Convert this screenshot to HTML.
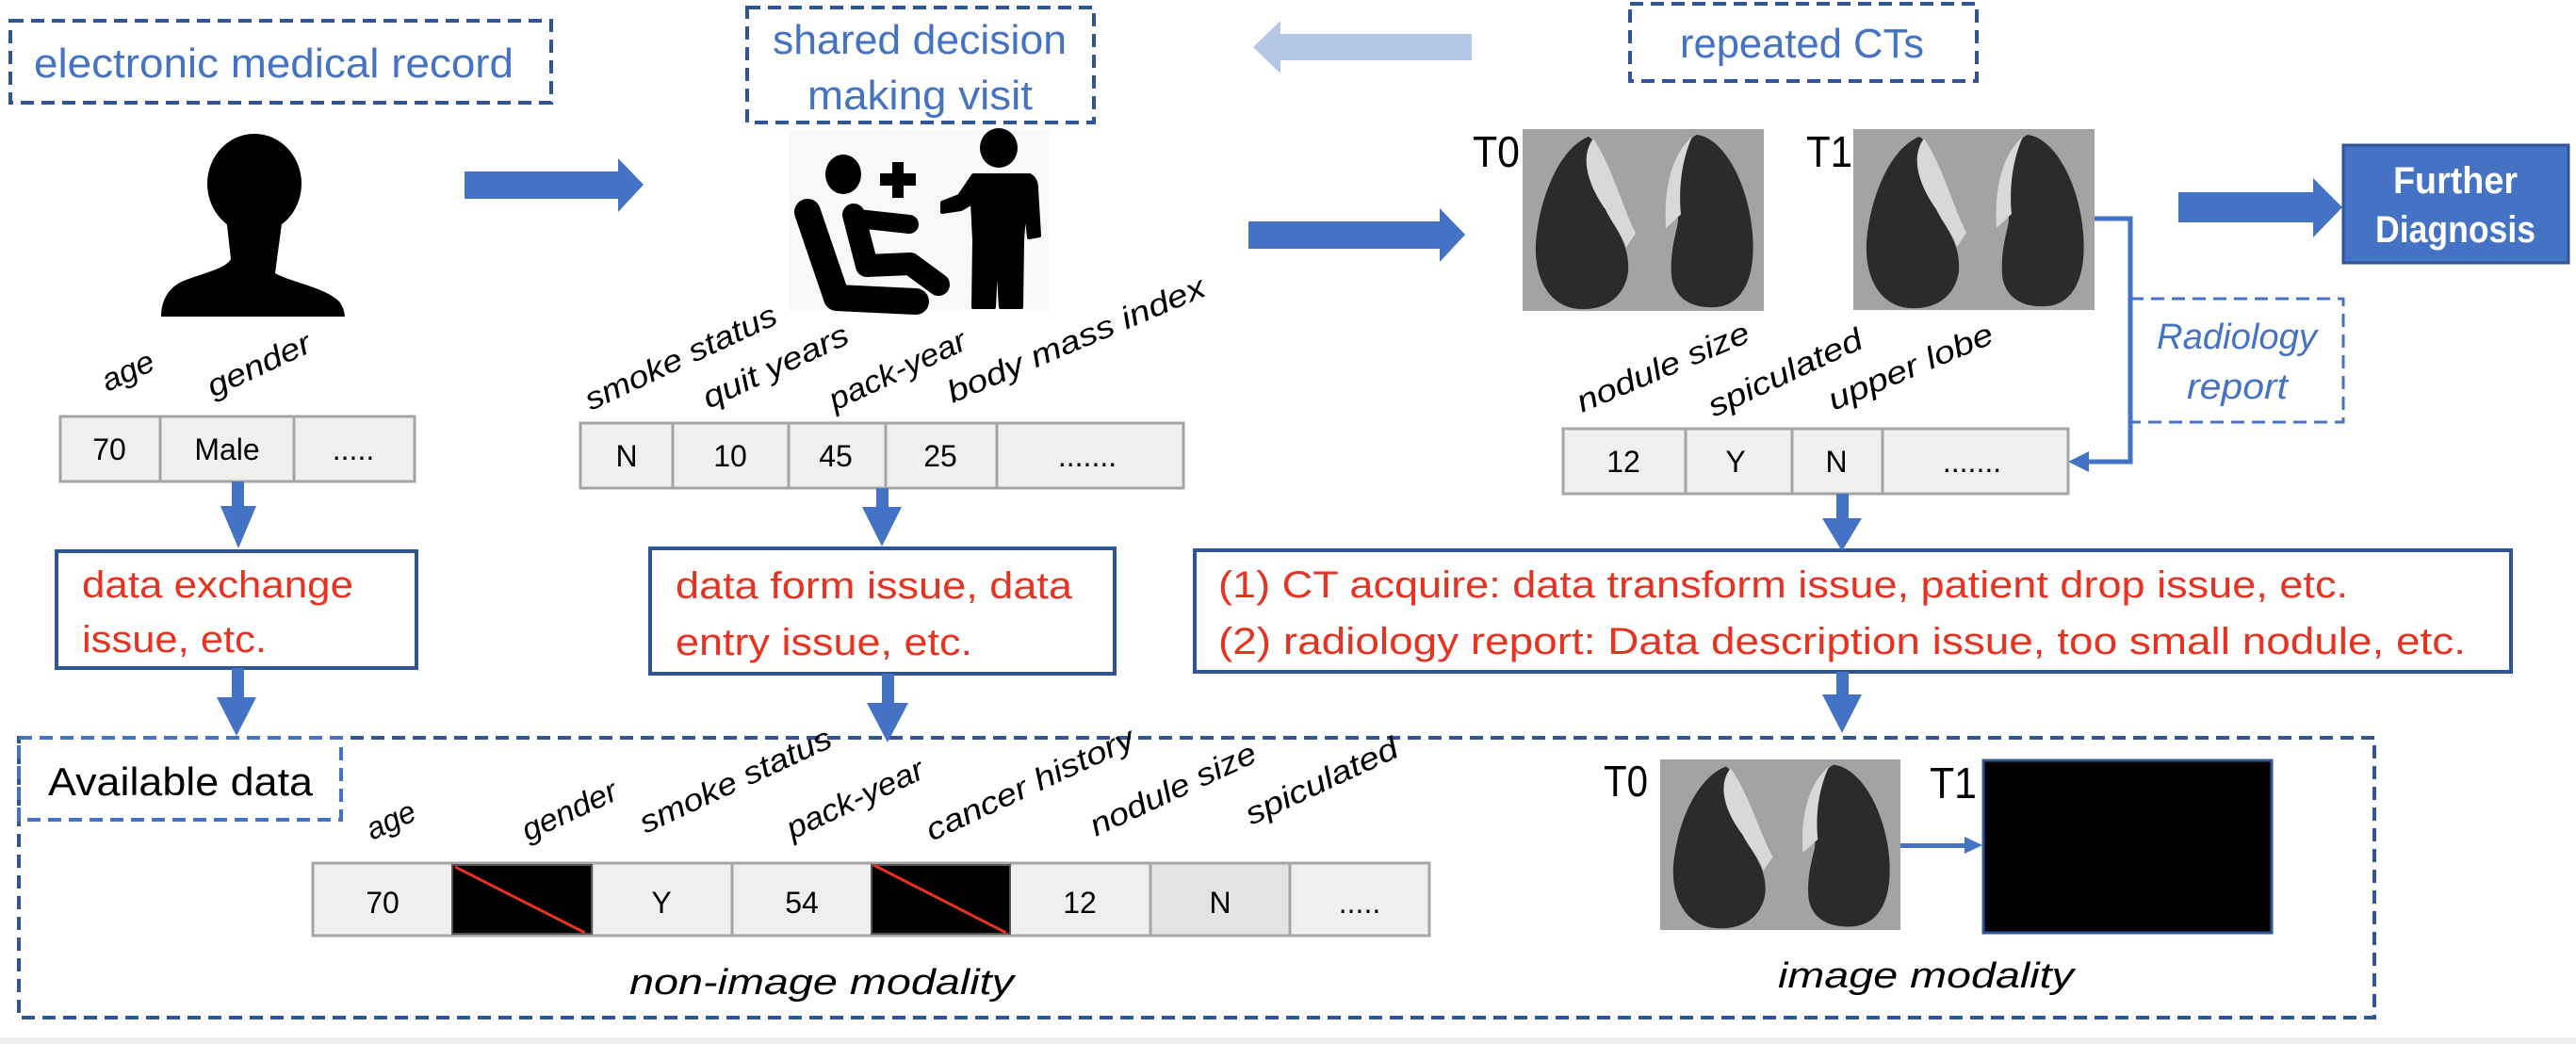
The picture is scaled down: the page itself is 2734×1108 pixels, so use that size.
<!DOCTYPE html>
<html><head><meta charset="utf-8"><style>html,body{margin:0;padding:0;background:#fff}svg{display:block}</style></head>
<body>
<svg width="2734" height="1108" viewBox="0 0 2734 1108" xmlns="http://www.w3.org/2000/svg" font-family="Liberation Sans, sans-serif">
<defs>
<g id="lung">
<rect x="0" y="0" width="256" height="192" fill="#a3a3a3"/>
<path d="M70,8 C40,20 18,70 14,120 C12,160 30,188 60,190 C95,192 110,170 112,150 C114,120 95,100 88,85 C80,60 95,25 70,8Z" fill="#2b2b2b"/>
<path d="M185,6 C215,10 240,60 244,110 C248,160 232,186 205,188 C175,190 160,175 158,155 C156,125 165,105 165,95 C160,60 165,15 185,6Z" fill="#2b2b2b"/>
<path d="M75,10 C60,30 70,60 88,85 C95,100 105,110 110,125 L120,110 C105,80 95,40 75,10Z" fill="#d8d8d8"/>
<path d="M180,8 C170,30 165,60 168,90 L152,105 C150,70 155,30 180,8Z" fill="#d8d8d8"/>
</g>
</defs>
<rect x="0" y="1101" width="2734" height="7" fill="#eeeeee"/>

<g fill="none" stroke="#2f5597" stroke-width="4" stroke-dasharray="14,8">
<rect x="11" y="22" width="574" height="87"/>
<rect x="793" y="8" width="368" height="122"/>
<rect x="1730" y="4" width="368" height="82"/>
<rect x="20" y="783" width="2500" height="297"/>
<rect x="20" y="783" width="342" height="87" stroke="#4472c4"/>
<rect x="2261" y="317" width="226" height="131" stroke="#4472c4" stroke-width="3"/>
</g>
<g fill="#4472c4" font-size="44">
<text x="36" y="82" textLength="509" lengthAdjust="spacingAndGlyphs">electronic medical record</text>
<text x="820" y="57" textLength="312" lengthAdjust="spacingAndGlyphs">shared decision</text>
<text x="857" y="116" textLength="239" lengthAdjust="spacingAndGlyphs">making visit</text>
<text x="1783" y="61" textLength="259" lengthAdjust="spacingAndGlyphs">repeated CTs</text>
<text x="2289" y="370" font-style="italic" font-size="38" textLength="170" lengthAdjust="spacingAndGlyphs">Radiology</text>
<text x="2321" y="423" font-style="italic" font-size="38" textLength="107" lengthAdjust="spacingAndGlyphs">report</text>
</g>
<text x="51" y="844" font-size="42" fill="#000" textLength="281" lengthAdjust="spacingAndGlyphs">Available data</text>

<polygon points="1562,36 1359,36 1359,22 1330,50 1359,78 1359,64 1562,64" fill="#b4c7e7"/>
<polygon points="493,182 656,182 656,168 683,196 656,225 656,211 493,211" fill="#4472c4"/>
<polygon points="1325,235 1528,235 1528,221 1555,249 1528,278 1528,264 1325,264" fill="#4472c4"/>
<polygon points="2312,204 2455,204 2455,189 2486,220 2455,252 2455,236 2312,236" fill="#4472c4"/>

<rect x="2487" y="154" width="239" height="125" fill="#4472c4" stroke="#2f5597" stroke-width="3"/>
<text x="2540" y="205" fill="#fff" font-weight="bold" font-size="40" textLength="132" lengthAdjust="spacingAndGlyphs">Further</text>
<text x="2521" y="257" fill="#fff" font-weight="bold" font-size="40" textLength="170" lengthAdjust="spacingAndGlyphs">Diagnosis</text>

<g fill="#000">
<ellipse cx="270" cy="195" rx="50" ry="53"/>
<path d="M240,230 L300,230 L292,290 C310,300 345,305 360,320 C366,328 366,336 366,336 L171,336 C171,320 178,305 195,298 C215,290 240,285 245,275Z"/>
</g>

<rect x="837" y="138" width="276" height="192" fill="#f8f8f8"/>
<g fill="#000" stroke="#000" stroke-linecap="round" stroke-linejoin="round">
<ellipse cx="895" cy="185" rx="19" ry="21" stroke="none"/>
<path d="M947,172 h12 v12 h13 v13 h-13 v13 h-12 v-13 h-13 v-13 h13z" stroke="none"/>
<path d="M857,225 L888,316 L972,320" fill="none" stroke-width="28"/>
<path d="M906,228 L920,282 L966,280 L996,302" fill="none" stroke-width="24"/>
<path d="M910,232 L965,238" fill="none" stroke-width="20"/>
<ellipse cx="1060" cy="157" rx="20" ry="21" stroke="none"/>
<path d="M1033,186 L1093,186 Q1100,190 1100,200 L1103,250 L1092,252 L1088,215 L1085,255 L1084,326 L1062,326 L1058,260 L1055,326 L1033,326 L1034,255 L1032,215 L1020,222 L1000,225 L1000,215 L1018,208Z" stroke-width="4"/>
</g>

<g transform="translate(1616,137) scale(1,1.005)"><use href="#lung"/></g>
<g transform="translate(1967,137) scale(1,1)"><use href="#lung"/></g>
<g transform="translate(1762,806) scale(0.996,0.943)"><use href="#lung"/></g>
<text x="1563" y="177" font-size="46" textLength="50" lengthAdjust="spacingAndGlyphs">T0</text>
<text x="1917" y="177" font-size="46" textLength="49" lengthAdjust="spacingAndGlyphs">T1</text>
<text x="1702" y="845" font-size="46" textLength="47" lengthAdjust="spacingAndGlyphs">T0</text>
<text x="2048" y="847" font-size="46" textLength="50" lengthAdjust="spacingAndGlyphs">T1</text>
<rect x="2105" y="807" width="306" height="183" fill="#000" stroke="#2f5597" stroke-width="3"/>
<polygon points="2017,895 2085,895 2085,888 2104,897 2085,906 2085,900 2017,900" fill="#4472c4"/>

<polyline points="2223,232 2261,232 2261,490 2210,490" fill="none" stroke="#4472c4" stroke-width="5"/>
<polygon points="2195,490 2217,479 2217,501" fill="#4472c4"/>

<g stroke="#a5a5a5" stroke-width="3" fill="#efefef">
<rect x="64" y="442" width="376" height="69"/>
<line x1="170" y1="442" x2="170" y2="511"/><line x1="312" y1="442" x2="312" y2="511"/>
<rect x="616" y="449" width="640" height="69"/>
<line x1="714" y1="449" x2="714" y2="518"/><line x1="837" y1="449" x2="837" y2="518"/><line x1="940" y1="449" x2="940" y2="518"/><line x1="1058" y1="449" x2="1058" y2="518"/>
<rect x="1659" y="455" width="536" height="69"/>
<line x1="1789" y1="455" x2="1789" y2="524"/><line x1="1902" y1="455" x2="1902" y2="524"/><line x1="1998" y1="455" x2="1998" y2="524"/>
<rect x="332" y="916" width="1185" height="77"/>
<rect x="1221" y="916" width="148" height="77" fill="#e3e3e3"/>
<line x1="628" y1="916" x2="628" y2="993"/><line x1="777" y1="916" x2="777" y2="993"/><line x1="1369" y1="916" x2="1369" y2="993"/>
</g>
<rect x="480" y="918" width="148" height="73" fill="#000" stroke="#555" stroke-width="2"/>
<rect x="925" y="918" width="147" height="73" fill="#000" stroke="#555" stroke-width="2"/>
<line x1="483" y1="920" x2="621" y2="990" stroke="#e8321f" stroke-width="3"/>
<line x1="927" y1="918" x2="1068" y2="990" stroke="#e8321f" stroke-width="3"/>

<g font-size="32" text-anchor="middle" fill="#000">
<text x="116" y="488">70</text><text x="241" y="488">Male</text><text x="375" y="488">.....</text>
<text x="665" y="495">N</text><text x="775" y="495">10</text><text x="887" y="495">45</text><text x="998" y="495">25</text><text x="1154" y="495">.......</text>
<text x="1723" y="501">12</text><text x="1842" y="501">Y</text><text x="1949" y="501">N</text><text x="2093" y="501">.......</text>
<text x="406" y="969">70</text><text x="702" y="969">Y</text><text x="851" y="969">54</text><text x="1146" y="969">12</text><text x="1295" y="969">N</text><text x="1443" y="969">.....</text>
</g>

<g font-size="33" fill="#000" font-style="italic">
<text transform="translate(114,416) rotate(-25)" textLength="58" lengthAdjust="spacingAndGlyphs">age</text>
<text transform="translate(226,422) rotate(-25)" textLength="118" lengthAdjust="spacingAndGlyphs">gender</text>
<text transform="translate(627,436) rotate(-25)" textLength="221" lengthAdjust="spacingAndGlyphs">smoke status</text>
<text transform="translate(752,434) rotate(-25)" textLength="167" lengthAdjust="spacingAndGlyphs">quit years</text>
<text transform="translate(886,436) rotate(-25)" textLength="157" lengthAdjust="spacingAndGlyphs">pack-year</text>
<text transform="translate(1011,428) rotate(-23)" textLength="294" lengthAdjust="spacingAndGlyphs">body mass index</text>
<text transform="translate(1679,438) rotate(-23)" textLength="196" lengthAdjust="spacingAndGlyphs">nodule size</text>
<text transform="translate(1819,443) rotate(-25)" textLength="177" lengthAdjust="spacingAndGlyphs">spiculated</text>
<text transform="translate(1946,436) rotate(-23)" textLength="187" lengthAdjust="spacingAndGlyphs">upper lobe</text>
<text transform="translate(395,892) rotate(-25)" textLength="54" lengthAdjust="spacingAndGlyphs">age</text>
<text transform="translate(560,893) rotate(-25)" textLength="108" lengthAdjust="spacingAndGlyphs">gender</text>
<text transform="translate(685,885) rotate(-25)" textLength="221" lengthAdjust="spacingAndGlyphs">smoke status</text>
<text transform="translate(841,891) rotate(-25)" textLength="157" lengthAdjust="spacingAndGlyphs">pack-year</text>
<text transform="translate(989,893) rotate(-25)" textLength="240" lengthAdjust="spacingAndGlyphs">cancer history</text>
<text transform="translate(1163,888) rotate(-25)" textLength="191" lengthAdjust="spacingAndGlyphs">nodule size</text>
<text transform="translate(1328,876) rotate(-25)" textLength="175" lengthAdjust="spacingAndGlyphs">spiculated</text>
</g>
<text x="668" y="1055" font-size="38" font-style="italic" textLength="408" lengthAdjust="spacingAndGlyphs">non-image modality</text>
<text x="1887" y="1048" font-size="38" font-style="italic" textLength="314" lengthAdjust="spacingAndGlyphs">image modality</text>

<g fill="#fff" stroke="#2f5597" stroke-width="4">
<rect x="60" y="585" width="382" height="124"/>
<rect x="690" y="582" width="493" height="133"/>
<rect x="1268" y="584" width="1397" height="129"/>
</g>
<g fill="#e8321f" font-size="40">
<text x="87" y="634" textLength="288" lengthAdjust="spacingAndGlyphs">data exchange</text>
<text x="87" y="692" textLength="196" lengthAdjust="spacingAndGlyphs">issue, etc.</text>
<text x="717" y="635" textLength="421" lengthAdjust="spacingAndGlyphs">data form issue, data</text>
<text x="717" y="695" textLength="315" lengthAdjust="spacingAndGlyphs">entry issue, etc.</text>
<text x="1293" y="634" textLength="1199" lengthAdjust="spacingAndGlyphs">(1) CT acquire: data transform issue, patient drop issue, etc.</text>
<text x="1293" y="694" textLength="1324" lengthAdjust="spacingAndGlyphs">(2) radiology report: Data description issue, too small nodule, etc.</text>
</g>

<g fill="#4472c4">
<rect x="246" y="511" width="13" height="28"/><polygon points="234,537 272,537 253,582"/>
<rect x="930" y="518" width="13" height="22"/><polygon points="915,538 957,538 936,580"/>
<rect x="1949" y="524" width="13" height="28"/><polygon points="1934,550 1976,550 1955,585"/>
<rect x="246" y="709" width="13" height="33"/><polygon points="230,740 272,740 251,781"/>
<rect x="936" y="715" width="13" height="33"/><polygon points="920,746 964,746 942,788"/>
<rect x="1949" y="713" width="13" height="26"/><polygon points="1934,737 1976,737 1955,778"/>
</g>
</svg>
</body></html>
